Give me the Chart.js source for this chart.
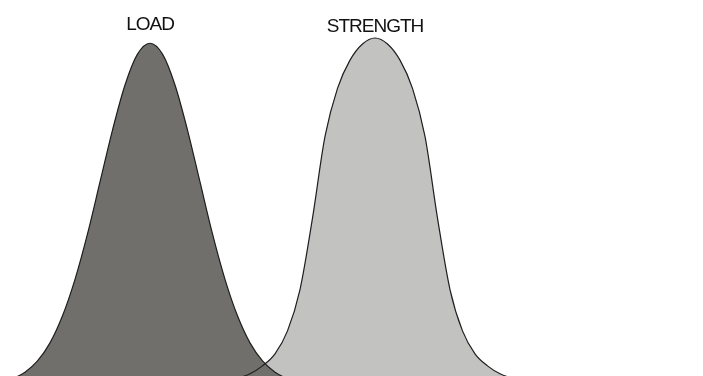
<!DOCTYPE html>
<html>
<head>
<meta charset="utf-8">
<script src="https://cdn.jsdelivr.net/npm/chart.js@4/dist/chart.umd.min.js"></script>
<style>
  html, body { margin: 0; padding: 0; background: #fff; }
  #wrap { position: relative; width: 703px; height: 376px; }
</style>
</head>
<body>
<div id="wrap"><canvas id="chart"></canvas></div>
<script>
// load distribution (stress units along x, relative density up)
var loadX = [0, 0.25, 0.5, 0.75, 1, 1.25, 1.5, 1.75, 2, 2.25, 2.5, 2.75, 3,
             3.25, 3.5, 3.75, 4, 4.25, 4.5, 4.75, 5, 5.25, 5.5, 5.75, 6];
var loadY = [0.08, 0.18, 0.35, 0.65, 1.13, 1.85, 2.82, 4.03, 5.41, 6.79, 7.99, 8.81, 9.10,
             8.81, 7.99, 6.79, 5.41, 4.03, 2.82, 1.85, 1.13, 0.65, 0.35, 0.18, 0.08];

// strength distribution
var strengthX = [4, 4.5, 4.75, 5, 5.25, 5.5, 5.75, 6, 6.25, 6.5, 6.75, 7, 7.25, 7.5,
                 7.75, 8, 8.25, 8.5, 8.75, 9, 9.25, 9.5, 9.75, 10, 10.25, 10.5, 11];
var strengthY = [0.04, 0.12, 0.19, 0.31, 0.52, 0.84, 1.45, 2.55, 4.45, 6.62, 7.90, 8.65, 9.08, 9.24,
                 9.08, 8.65, 7.90, 6.62, 4.45, 2.55, 1.45, 0.84, 0.52, 0.31, 0.19, 0.12, 0.04];

var names = ["LOAD", "STRENGTH"];
var means = [3, 7.5];

function toPoints(xs, ys) {
  return xs.map(function (x, i) { return { x: x, y: ys[i] }; });
}

// titles above each curve
var curveTitles = {
  id: "curveTitles",
  afterDraw: function (chart) {
    var ctx = chart.ctx;
    var xs = chart.scales.x;
    var tops = [30, 32];
    ctx.save();
    ctx.fillStyle = "#111";
    ctx.font = "19px 'Liberation Sans', Arial, sans-serif";
    ctx.letterSpacing = "-1px";
    ctx.textAlign = "center";
    ctx.textBaseline = "alphabetic";
    names.forEach(function (n, i) {
      ctx.fillText(n, xs.getPixelForValue(means[i]), tops[i]);
    });
    ctx.restore();
  }
};

var ctx = document.getElementById("chart").getContext("2d");
var myChart = new Chart(ctx, {
  type: "line",
  data: {
    datasets: [
      {
        label: names[0],
        data: toPoints(loadX, loadY),
        borderColor: "#1e1e1e",
        borderWidth: 1.2,
        backgroundColor: "#706f6c",
        fill: "start",
        pointRadius: 0,
        cubicInterpolationMode: "monotone",
      },
      {
        label: names[1],
        data: toPoints(strengthX, strengthY),
        borderColor: "#1e1e1e",
        borderWidth: 1.2,
        backgroundColor: "#c2c2c0",
        fill: "start",
        pointRadius: 0,
        cubicInterpolationMode: "monotone",
      },
    ],
  },
  options: {
    responsive: true,
    maintainAspectRatio: false,
    animation: false,
    layout: { padding: 0 },
    plugins: {
      legend: { display: false },
      tooltip: { enabled: false },
      filler: { drawTime: "beforeDatasetsDraw" },
    },
    scales: {
      x: { type: "linear", display: false, min: 0, max: 14.06 },
      y: { display: false, min: 0.25, max: 10.25 },
    },
  },
  plugins: [curveTitles],
});
</script>
</body>
</html>
